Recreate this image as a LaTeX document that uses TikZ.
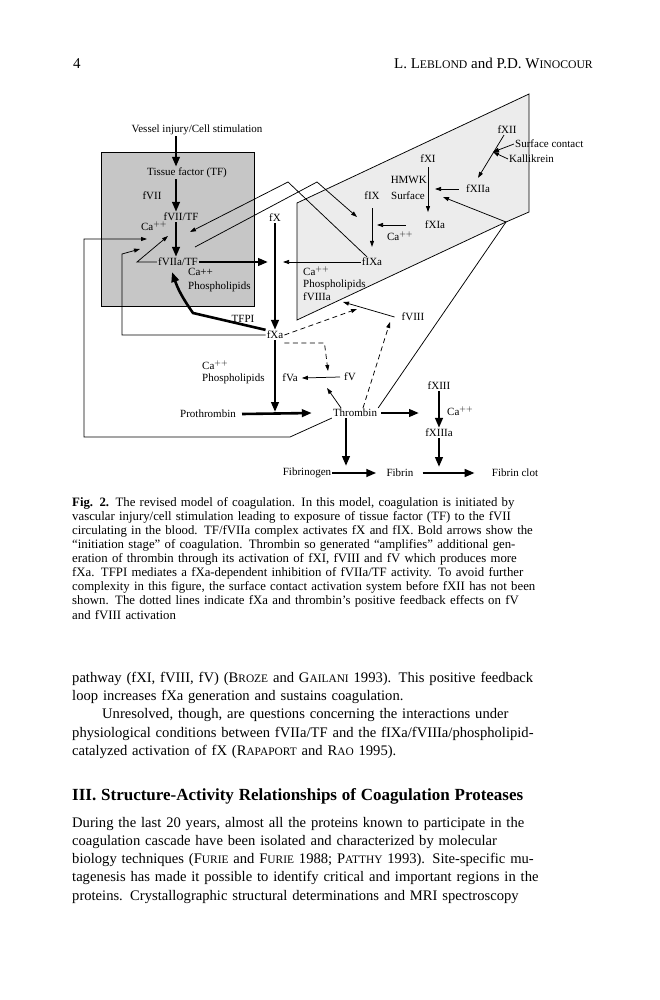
\documentclass[tikz,border=0pt]{standalone}
\usepackage{fontspec}
\setmainfont{Liberation Serif}
\usetikzlibrary{arrows.meta,positioning,calc}
\newcommand{\Capp}{Ca$^{++}$}
\newcommand{\ksc}[3][11.4]{#2{\fontsize{#1}{#1}\selectfont #3}}
\newcommand{\jl}[1]{\hbox to\hsize{#1}}
\newcommand{\fl}[1]{\hbox{#1}}
\newcommand{\dgmfont}{\fontsize{11}{12}\selectfont}
\newcommand{\capfont}{\fontsize{12.8}{14.1}\selectfont}
\newcommand{\bodyfont}{\fontsize{14.6}{18.2}\selectfont}
\newcommand{\headfont}{\fontsize{17}{18.2}\selectfont\bfseries}
\newcommand{\hdrfont}{\fontsize{15}{16}\selectfont}

\begin{document}
\begin{tikzpicture}[x=1pt,y=-1pt,font=\dgmfont,
  lbl/.style={inner sep=1pt},
  thk/.style={line width=2.6pt,-{Triangle[length=10pt,width=7.5pt]}},
  thn/.style={line width=0.75pt,-{Triangle[length=6pt,width=4pt]}},
  ln/.style={line width=0.75pt},
  dsh/.style={thn,dash pattern=on 5pt off 3.5pt}]
\useasboundingbox (0,0) rectangle (659,1000);
% shaded regions
\filldraw[fill=gray!45,ln] (101,152) rectangle (254,306);
\filldraw[fill=gray!15,ln] (297,203) -- (529,94) -- (529,212) -- (506,222) -- (297,320) -- cycle;

% running head
\node[anchor=base west,font=\hdrfont,inner sep=0] (pgno) at (73,69) {4};
\node[anchor=base east,font=\hdrfont,inner sep=0] (runhead) at (593,69)
  {L. \ksc[11.7]{L}{EBLOND} and P.D. \ksc[11.7]{W}{INOCOUR}};

% extrinsic part
\node[lbl] (vessel) at (197,130) {Vessel injury/Cell stimulation};
\node[lbl] (tf) at (187,173) {Tissue factor (TF)};
\node[lbl] (fvii) at (152,196) {fVII};
\node[lbl] (fviitf) at (181,217) {fVII/TF};
\node[lbl] (caA) at (154,226) {\Capp};
\node[lbl] (fviiatf) at (178,262) {fVIIa/TF};
\node[lbl,anchor=west] (caB) at (187,272) {Ca++};
\node[lbl,anchor=west] (phosB) at (187,287) {Phospholipids};
\node[lbl] (tfpi) at (243,319) {TFPI};
\node[lbl] (fx) at (275,218) {fX};
\node[lbl] (fxa) at (275,335) {fXa};

% intrinsic part
\node[lbl] (fxii) at (507,130) {fXII};
\node[lbl,anchor=west] (contact) at (514,144) {Surface contact};
\node[lbl,anchor=west] (kall) at (508,159) {Kallikrein};
\node[lbl] (fxiia) at (478,189) {fXIIa};
\node[lbl] (fxi) at (428,159) {fXI};
\node[lbl,anchor=east] (hmwk) at (428,180) {HMWK};
\node[lbl,anchor=east] (surf) at (426,196) {Surface};
\node[lbl] (fxia) at (435,225) {fXIa};
\node[lbl] (caC) at (400,236) {\Capp};
\node[lbl] (fix) at (372,196) {fIX};
\node[lbl] (fixa) at (372,262) {fIXa};
\node[lbl,anchor=west] (caD) at (302,271) {\Capp};
\node[lbl,anchor=west] (phosD) at (302,285) {Phospholipids};
\node[lbl,anchor=west] (fviiia) at (302,297) {fVIIIa};
\node[lbl] (fviii) at (413,317) {fVIII};

% common pathway
\node[lbl] (fv) at (350,377) {fV};
\node[lbl] (fva) at (290,378) {fVa};
\node[lbl,anchor=west] (caE) at (201,365) {\Capp};
\node[lbl,anchor=west] (phosE) at (201,379) {Phospholipids};
\node[lbl] (proth) at (208,414) {Prothrombin};
\node[lbl] (thromb) at (355,413) {Thrombin};
\node[lbl] (fxiii) at (439,386) {fXIII};
\node[lbl,anchor=west] (caF) at (446,411) {\Capp};
\node[lbl] (fxiiia) at (439,433) {fXIIIa};
\node[lbl] (fbg) at (307,473) {Fibrinogen};
\node[lbl] (fbn) at (400,473) {Fibrin};
\node[lbl] (clot) at (515,473) {Fibrin clot};

% targets on other arrows
\coordinate (cTF) at (176,0);
\coordinate (xline) at (275,262);
\coordinate (onVII) at (168,236);
\coordinate (onVIIb) at (140,249);
\coordinate (onVIIc) at (147,239);
\coordinate (onIX) at (357,217);
\coordinate (onIXb) at (377,225);
\coordinate (onXI) at (435,189);
\coordinate (onXIb) at (443,197);
\coordinate (onXII) at (493,152);
\coordinate (onVIII) at (343,302);
\coordinate (onVIIId) at (357,309);
\coordinate (onV) at (328,371);
\coordinate (onVb) at (327,388);
\coordinate (toVIII) at (390,322);
\coordinate (onProth) at (275,412);
\coordinate (onFbg) at (346,466);
\coordinate (onFbn) at (439,467);

% bold arrows (initiation)
\draw[thk] (vessel.south -| cTF) -- (tf.north -| cTF);
\draw[thk] (tf.south -| cTF) -- (fviitf.north -| cTF);
\draw[thk] (fviitf.south -| cTF) -- (fviiatf.north -| cTF);
\draw[thk] (fviiatf.east) -- ([xshift=-7pt]xline);
\draw[thk] (fx.south) -- (fxa.north);
\draw[thk] (fxa.south) -- (onProth);
\draw[thk] ([xshift=5pt]proth.east) -- ([xshift=-20pt]thromb.west);
\draw[thk] ([xshift=3pt]thromb.east) -- ([xshift=-20pt]thromb.east -| fxiii.center);
\draw[thk] (fxiii.south) -- (fxiiia.north);
\draw[thk] (fxiiia.south) -- (onFbn);
\draw[thk] (thromb.south -| onFbg) -- (onFbg);
\draw[thk] (fbg.east) -- ([xshift=-9pt]fbn.west);
\draw[thk] ([xshift=8pt]fbn.east) -- ([xshift=-16pt]clot.west);
\draw[thk] (fxa.north west) -- (193,313) to[bend left=8] (172,272);

% thin arrows
\draw[thn] (fxa.west) -- (122,335) -- (122,254) -- (onVIIb);
\draw[thn] (thromb.south west) -- (290,437) -- (84,437) -- (84,239) -- (onVIIc);
\draw[thn] (fviiatf.west) -- (137,262) -- (onVII);
\draw[thn] ([xshift=-5pt]fixa.north) -- (288,182) -- (190,232);
\draw[thn] (195,247) -- (317,182) -- (onIX);
\draw[thn] (fixa.west) -- ([xshift=8pt]xline);
\draw[thn] ([yshift=-7pt]fix.south) -- ([yshift=10pt]fixa.north);
\draw[thn] ([xshift=-18pt]fxia.west) -- (onIXb);
\draw[thn] ([yshift=-3pt]fxi.south) -- ++(0,45);
\draw[thn] ([xshift=-6pt]fxiia.west) -- (onXI);
\draw[thn] ([xshift=-3pt]fxii.south) -- ([yshift=6pt]fxiia.north);
\draw[thn] (contact.west) -- (onXII);
\draw[thn] (kall.west) -- (onXII);
\draw[thn] (thromb.north east) -- (506,222) -- (onXIb);
\draw[thn] ([xshift=-6pt]fviii.west) -- (onVIII);
\draw[thn] ([xshift=-3pt]fv.west) -- ([xshift=3pt]fva.east);
\draw[thn] ([xshift=-14pt]thromb.north) -- (onVb);
% feedback (dashed)
\draw[dsh] (fxa.east) -- (onVIIId);
\draw[dsh] ([yshift=-8pt]fxa.east) -- ++(40,0) -- (onV);
\draw[dsh] ([xshift=8pt]thromb.north) -- (toVIII);

% caption
\node[anchor=north west,text width=520pt,font=\capfont,inner sep=0] (caption) at (72,497) {%
\jl{\textbf{Fig. 2.} The revised model of coagulation. In this model, coagulation is initiated by}
\jl{vascular injury/cell stimulation leading to exposure of tissue factor (TF) to the fVII}
\jl{circulating in the blood. TF/fVIIa complex activates fX and fIX. Bold arrows show the}
\jl{``initiation stage'' of coagulation. Thrombin so generated ``amplifies'' additional gen-}
\jl{eration of thrombin through its activation of fXI, fVIII and fV which produces more}
\jl{fXa. TFPI mediates a fXa-dependent inhibition of fVIIa/TF activity. To avoid further}
\jl{complexity in this figure, the surface contact activation system before fXII has not been}
\jl{shown. The dotted lines indicate fXa and thrombin's positive feedback effects on fV}
\fl{and fVIII activation}};

% body text
\node[anchor=north west,text width=520pt,font=\bodyfont,inner sep=0] (body) at (72,672) {%
\jl{pathway (fXI, fVIII, fV) (\ksc{B}{ROZE} and \ksc{G}{AILANI} 1993). This positive feedback}
\fl{loop increases fXa generation and sustains coagulation.}
\jl{\kern30pt Unresolved, though, are questions concerning the interactions under}
\jl{physiological conditions between fVIIa/TF and the fIXa/fVIIIa/phospholipid-}
\fl{catalyzed activation of fX (\ksc{R}{APAPORT} and \ksc{R}{AO} 1995).}
\vskip 26.8pt
\fl{\headfont III. Structure-Activity Relationships of Coagulation Proteases}
\vskip 8.8pt
\jl{During the last 20 years, almost all the proteins known to participate in the}
\jl{coagulation cascade have been isolated and characterized by molecular}
\jl{biology techniques (\ksc{F}{URIE} and \ksc{F}{URIE} 1988; \ksc{P}{ATTHY} 1993). Site-specific mu-}
\jl{tagenesis has made it possible to identify critical and important regions in the}
\jl{proteins. Crystallographic structural determinations and MRI spectroscopy}};
\end{tikzpicture}
\end{document}
